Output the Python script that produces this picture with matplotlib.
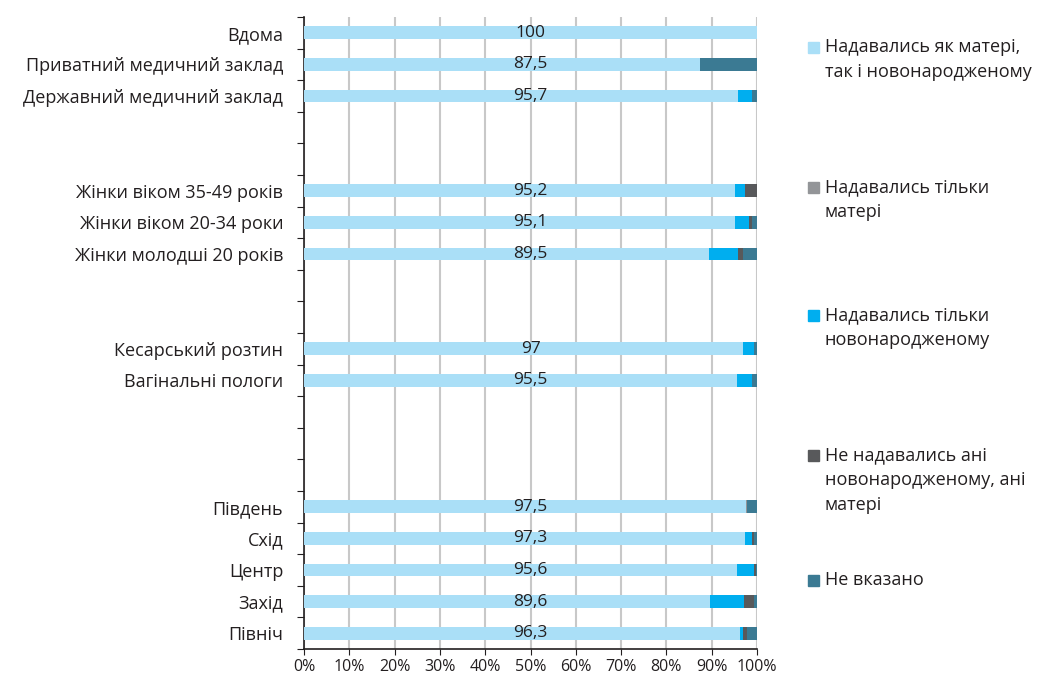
import matplotlib
matplotlib.use("Agg")
import matplotlib.pyplot as plt
from matplotlib.patches import Rectangle
import numpy as np

plt.rcParams['font.family'] = ['Open Sans', 'DejaVu Sans']

# categories top to bottom, None = empty slot
categories = ["Вдома", "Приватний медичний заклад", "Державний медичний заклад", None, None,
              "Жінки віком 35-49 років", "Жінки віком 20-34 роки", "Жінки молодші 20 років", None, None,
              "Кесарський розтин", "Вагінальні пологи", None, None, None,
              "Південь", "Схід", "Центр", "Захід", "Північ"]

both = [100, 87.5, 95.7, 0, 0, 95.2, 95.1, 89.5, 0, 0, 97, 95.5, 0, 0, 0, 97.5, 97.3, 95.6, 89.6, 96.3]
mother_only = [0, 0, 0, 0, 0, 0, 0, 0, 0, 0, 0, 0, 0, 0, 0, 0.4, 0, 0, 0, 0]
baby_only = [0, 0, 3.3, 0, 0, 2.2, 3.1, 6.2, 0, 0, 2.3, 3.4, 0, 0, 0, 0, 1.7, 3.8, 7.6, 0.7]
neither = [0, 0, 0, 0, 0, 2.6, 0.8, 1.3, 0, 0, 0, 0, 0, 0, 0, 0, 0.4, 0.4, 2.1, 0.9]
not_stated = [0, 12.5, 1.0, 0, 0, 0, 1.0, 3.0, 0, 0, 0.7, 1.1, 0, 0, 0, 2.1, 0.6, 0.2, 0.7, 2.1]

value_labels = ["100", "87,5", "95,7", "", "", "95,2", "95,1", "89,5", "", "",
                "97", "95,5", "", "", "", "97,5", "97,3", "95,6", "89,6", "96,3"]

series_names = ["Надавались як матері,\nтак і новонародженому",
                "Надавались тільки\nматері",
                "Надавались тільки\nновонародженому",
                "Не надавались ані\nновонародженому, ані\nматері",
                "Не вказано"]
colors = ["#aadff7", "#939598", "#00aeef", "#58595b", "#3b7a93"]

fig = plt.figure(figsize=(10.42, 6.82), dpi=100)
ax = fig.add_axes([304 / 1042, 1 - 649 / 682, 453 / 1042, 632 / 682])

y = np.arange(len(categories))
left = np.zeros(len(categories))
for vals, col in zip([both, mother_only, baby_only, neither, not_stated], colors):
    ax.barh(y, vals, left=left, height=0.4, color=col, zorder=3)
    left += np.array(vals)

for yi, lab in zip(y, value_labels):
    if lab:
        ax.text(50, yi, lab, ha='center', va='center', fontsize=12.5, color='#231f20', zorder=4)

ax.set_xlim(0, 100)
ax.set_ylim(len(categories) - 0.5, -0.5)
ax.set_xticks(np.arange(0, 101, 10))
ax.set_xticklabels([f"{v}%" for v in range(0, 101, 10)], fontsize=11.5)
ax.xaxis.grid(True, color='#c8c8c8', linewidth=1.5, zorder=0)
ax.tick_params(axis='x', length=4, color='#231f20', colors='#231f20')

ax.set_yticks(np.arange(-0.5, len(categories), 1))
ax.set_yticklabels([])
ax.tick_params(axis='y', which='major', length=5, color='#231f20')
lab_pos = [i for i, c in enumerate(categories) if c]
ax.set_yticks(lab_pos, minor=True)
ax.set_yticklabels([categories[i] for i in lab_pos], minor=True, fontsize=13, color='#231f20')
ax.tick_params(axis='y', which='minor', length=0, pad=15)

for s in ['top', 'right']:
    ax.spines[s].set_visible(False)
for s in ['left', 'bottom']:
    ax.spines[s].set_color('#231f20')
    ax.spines[s].set_linewidth(1.2)

# legend placed at the right
legend_y = [47, 187, 315, 455, 580]
for name, col, ly in zip(series_names, colors, legend_y):
    fig.patches.append(Rectangle((808 / 1042, 1 - (ly + 5.5) / 682), 11 / 1042, 11 / 682,
                                 transform=fig.transFigure, color=col))
    fig.text(825 / 1042, 1 - (ly - 9) / 682, name, ha='left', va='top', fontsize=13,
             color='#231f20', linespacing=1.5)

fig.savefig("out.png", dpi=100)
